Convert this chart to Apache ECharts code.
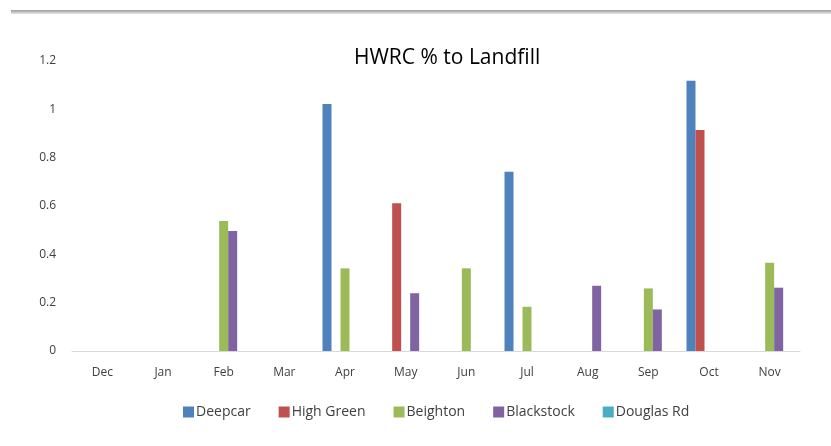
<!DOCTYPE html>
<html>
<head>
<meta charset="utf-8">
<script src="https://cdn.jsdelivr.net/npm/echarts@6/dist/echarts.min.js"></script>
<style>
  html, body { margin: 0; padding: 0; background: #fff; }
  #chart { width: 831px; height: 446px; }
</style>
</head>
<body>
<div id="chart"></div>
<script>
const months = ['Dec', 'Jan', 'Feb', 'Mar', 'Apr', 'May', 'Jun', 'Jul', 'Aug', 'Sep', 'Oct', 'Nov'];
const deepcar    = [0, 0, 0,     0, 1.022, 0,     0,     0.742, 0,    0,     1.118, 0];
const highGreen  = [0, 0, 0,     0, 0,     0.611, 0,     0,     0,    0,     0.914, 0];
const beighton   = [0, 0, 0.538, 0, 0.342, 0,     0.342, 0.183, 0,    0.259, 0,     0.365];
const blackstock = [0, 0, 0.497, 0, 0,     0.239, 0,     0,     0.27, 0.172, 0,     0.262];
const douglasRd  = [0, 0, 0,     0, 0,     0,     0,     0,     0,    0,     0,     0];
const yTicks = [0, 0.2, 0.4, 0.6, 0.8, 1, 1.2];

const font = '"Open Sans", "Liberation Sans", sans-serif';
const colors = ['#4F81BD', '#C0504D', '#9BBB59', '#8064A2', '#4BACC6'];

function bar(name, data) {
  return { name: name, type: 'bar', data: data, barWidth: 9, barGap: '0%' };
}

const chart = echarts.init(document.getElementById('chart'));
chart.setOption({
  animation: false,
  color: colors,
  textStyle: { fontFamily: font },
  title: {
    text: 'HWRC % to Landfill',
    left: 349,
    top: 43,
    textStyle: { fontFamily: font, fontSize: 21, fontWeight: 'normal', color: '#000' }
  },
  legend: {
    top: 400,
    left: 178,
    itemWidth: 11,
    itemHeight: 11,
    itemGap: 28,
    icon: 'rect',
    textStyle: { fontFamily: font, fontSize: 14, color: '#404040', padding: [0, 0, 0, -3] },
    data: ['Deepcar', 'High Green', 'Beighton', 'Blackstock', 'Douglas Rd']
  },
  grid: { left: 72, right: 31, top: 61, bottom: 95 },
  xAxis: {
    type: 'category',
    data: months,
    axisTick: { show: false },
    axisLine: { lineStyle: { color: '#d9d9d9', width: 1 } },
    axisLabel: { color: '#404040', fontSize: 12, margin: 16 }
  },
  yAxis: {
    type: 'value',
    min: yTicks[0],
    max: yTicks[yTicks.length - 1],
    interval: 0.2,
    splitLine: { show: false },
    axisLine: { show: false },
    axisTick: { show: false },
    axisLabel: { color: '#404040', fontSize: 12, margin: 16, formatter: v => String(+v.toFixed(1)) }
  },
  graphic: [{
    type: 'rect',
    shape: { x: 11, y: 10, width: 820, height: 4 },
    style: { fill: new echarts.graphic.LinearGradient(0, 0, 0, 1, [
      { offset: 0, color: '#9a9a9a' }, { offset: 1, color: '#e8e8e8' }
    ]) },
    silent: true
  }],
  series: [
    bar('Deepcar', deepcar),
    bar('High Green', highGreen),
    bar('Beighton', beighton),
    bar('Blackstock', blackstock),
    bar('Douglas Rd', douglasRd)
  ]
});
</script>
</body>
</html>
